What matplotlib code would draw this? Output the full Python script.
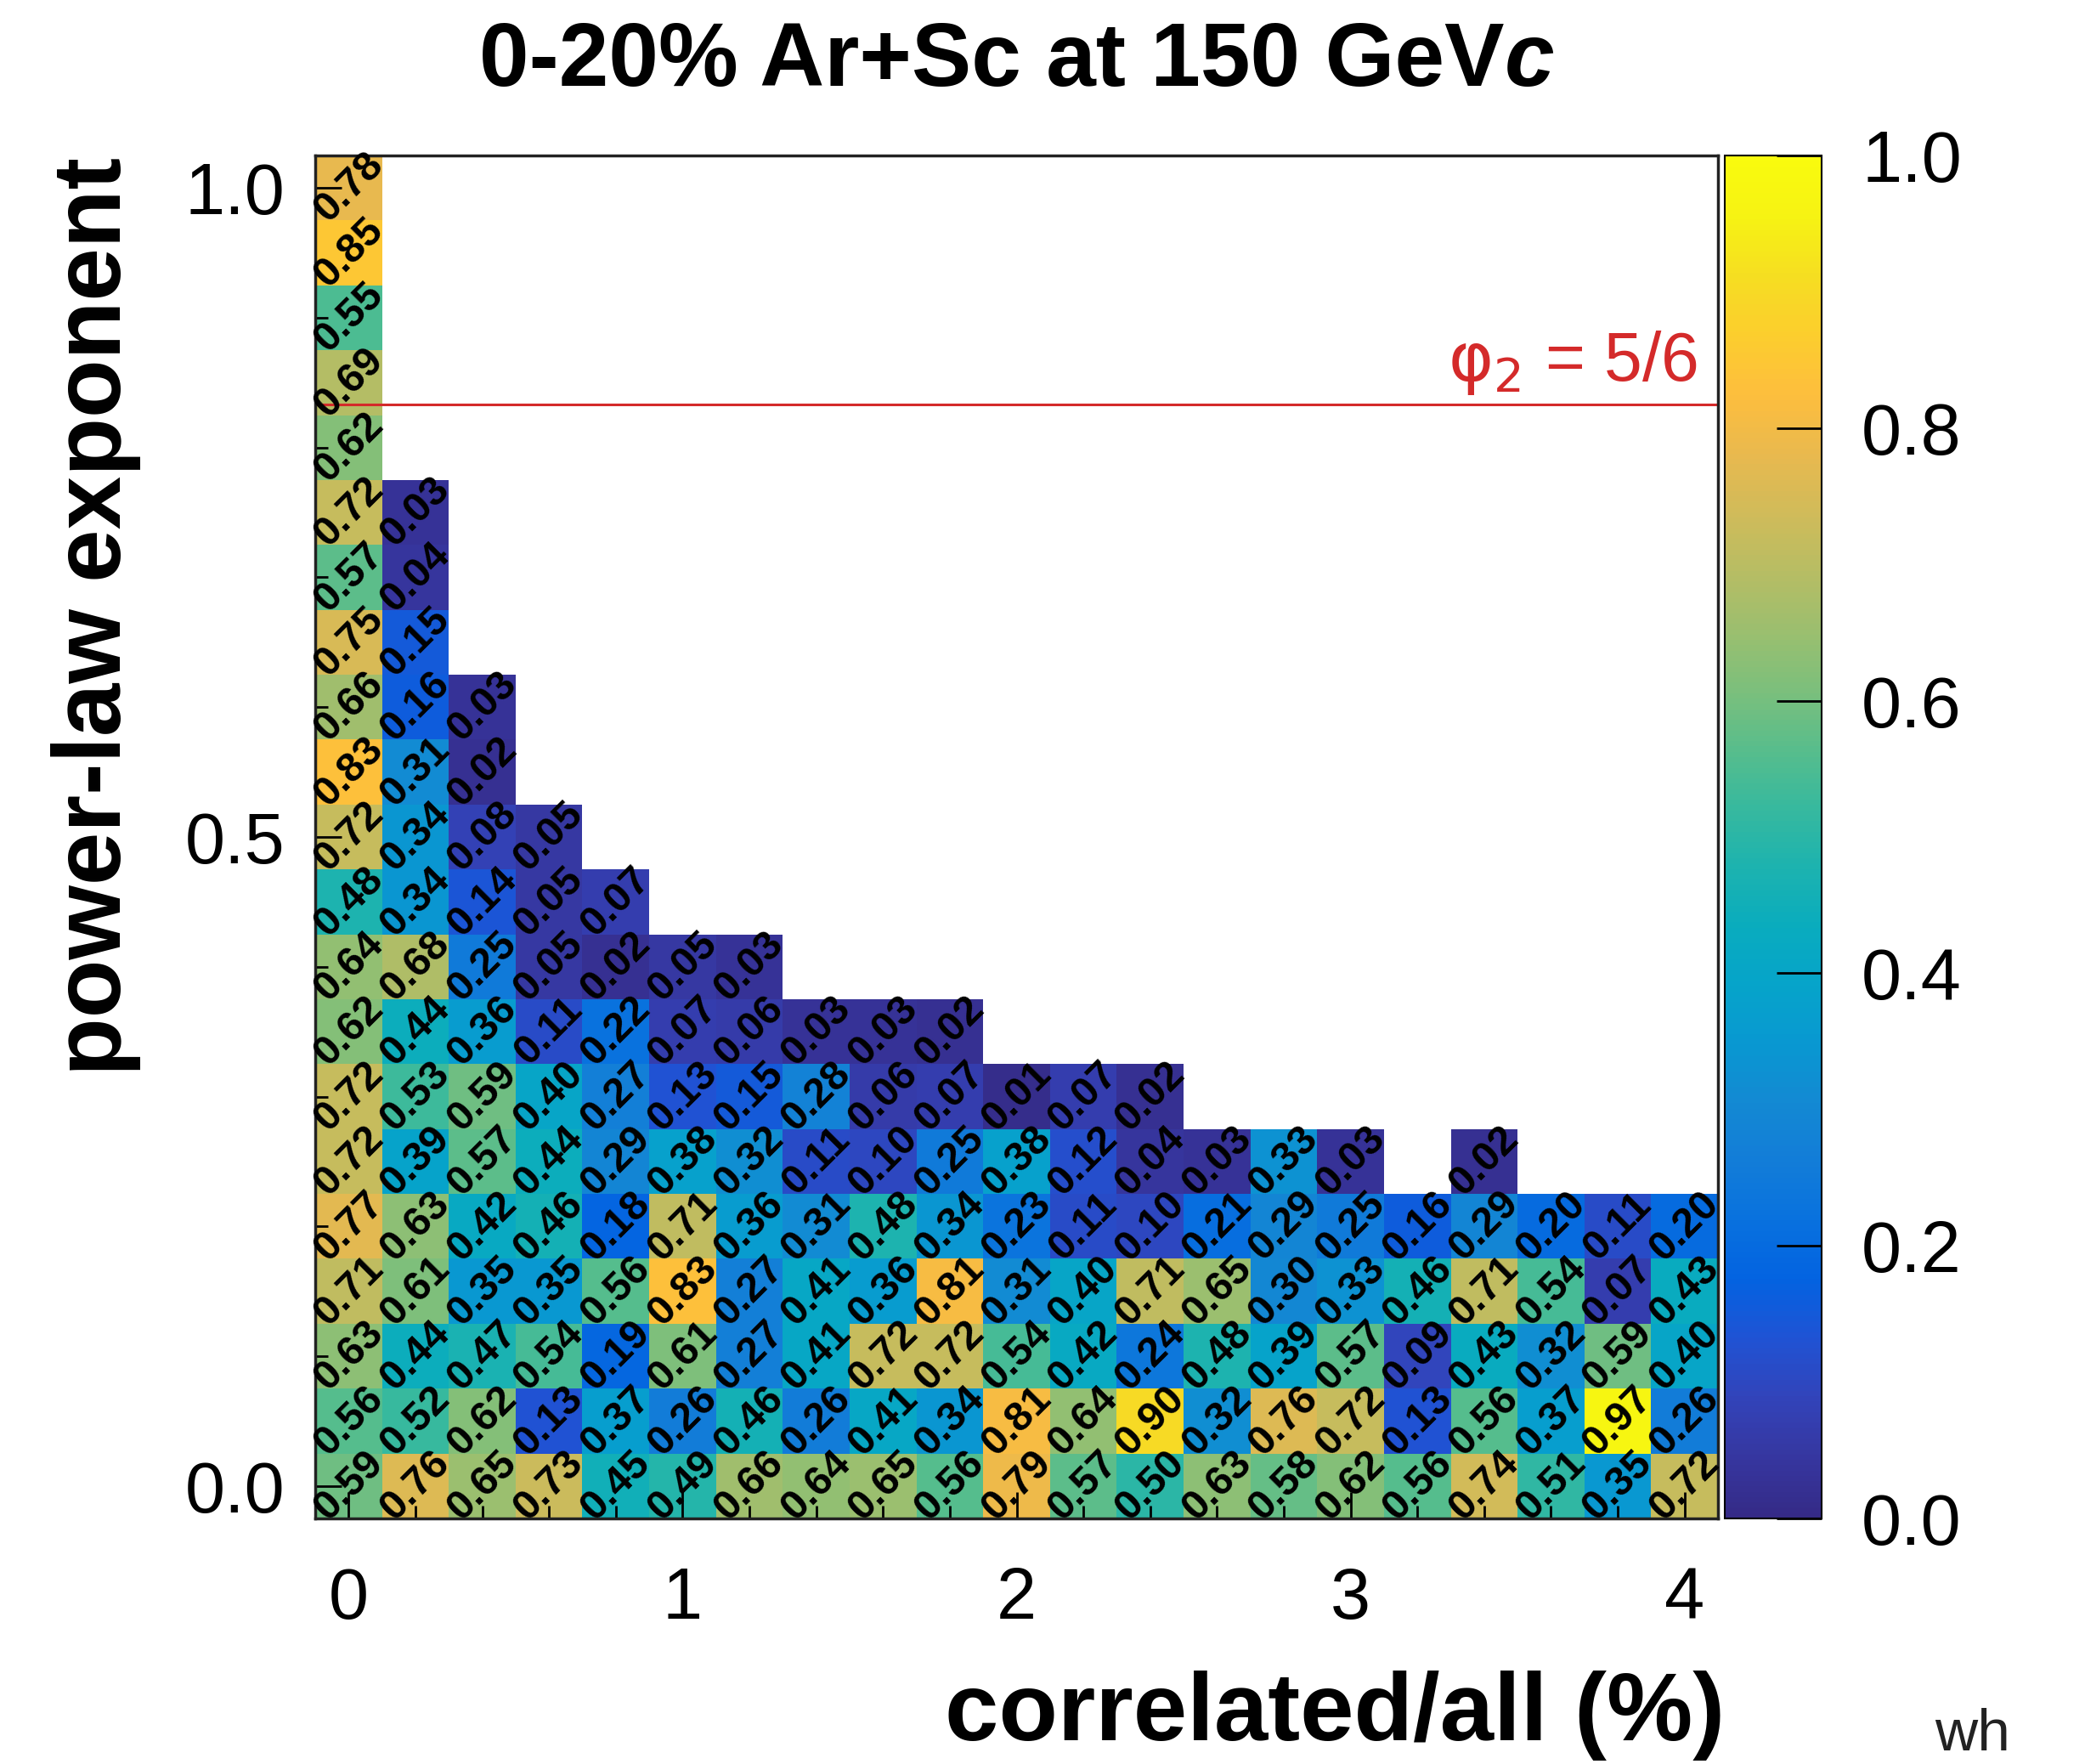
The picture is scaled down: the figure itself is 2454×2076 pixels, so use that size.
import numpy as np
import matplotlib
matplotlib.use("Agg")
import matplotlib.pyplot as plt
from matplotlib.colors import LinearSegmentedColormap
from matplotlib.ticker import MultipleLocator

plt.rcParams["font.family"] = ["Liberation Sans", "DejaVu Sans"]

# bin centres
x_centers = [0.0, 0.2, 0.4, 0.6, 0.8, 1.0, 1.2, 1.4, 1.6, 1.8, 2.0,
             2.2, 2.4, 2.6, 2.8, 3.0, 3.2, 3.4, 3.6, 3.8, 4.0]
y_step = 0.05
n_rows = 21

# fraction per cell, each column listed from y = 0 upwards
col_x00 = [0.59, 0.56, 0.63, 0.71, 0.77, 0.72, 0.72, 0.62, 0.64, 0.48, 0.72,
           0.83, 0.66, 0.75, 0.57, 0.72, 0.62, 0.69, 0.55, 0.85, 0.78]
col_x02 = [0.76, 0.52, 0.44, 0.61, 0.63, 0.39, 0.53, 0.44, 0.68, 0.34, 0.34,
           0.31, 0.16, 0.15, 0.04, 0.03]
col_x04 = [0.65, 0.62, 0.47, 0.35, 0.42, 0.57, 0.59, 0.36, 0.25, 0.14, 0.08,
           0.02, 0.03]
col_x06 = [0.73, 0.13, 0.54, 0.35, 0.46, 0.44, 0.40, 0.11, 0.05, 0.05, 0.05]
col_x08 = [0.45, 0.37, 0.19, 0.56, 0.18, 0.29, 0.27, 0.22, 0.02, 0.07]
col_x10 = [0.49, 0.26, 0.61, 0.83, 0.71, 0.38, 0.13, 0.07, 0.05]
col_x12 = [0.66, 0.46, 0.27, 0.27, 0.36, 0.32, 0.15, 0.06, 0.03]
col_x14 = [0.64, 0.26, 0.41, 0.41, 0.31, 0.11, 0.28, 0.03]
col_x16 = [0.65, 0.41, 0.72, 0.36, 0.48, 0.10, 0.06, 0.03]
col_x18 = [0.56, 0.34, 0.72, 0.81, 0.34, 0.25, 0.07, 0.02]
col_x20 = [0.79, 0.81, 0.54, 0.31, 0.23, 0.38, 0.01]
col_x22 = [0.57, 0.64, 0.42, 0.40, 0.11, 0.12, 0.07]
col_x24 = [0.50, 0.90, 0.24, 0.71, 0.10, 0.04, 0.02]
col_x26 = [0.63, 0.32, 0.48, 0.65, 0.21, 0.03]
col_x28 = [0.58, 0.76, 0.39, 0.30, 0.29, 0.33]
col_x30 = [0.62, 0.72, 0.57, 0.33, 0.25, 0.03]
col_x32 = [0.56, 0.13, 0.09, 0.46, 0.16]
col_x34 = [0.74, 0.56, 0.43, 0.71, 0.29, 0.02]
col_x36 = [0.51, 0.37, 0.32, 0.54, 0.20]
col_x38 = [0.35, 0.97, 0.59, 0.07, 0.11]
col_x40 = [0.72, 0.26, 0.40, 0.43, 0.20]

columns = [col_x00, col_x02, col_x04, col_x06, col_x08, col_x10, col_x12,
           col_x14, col_x16, col_x18, col_x20, col_x22, col_x24, col_x26,
           col_x28, col_x30, col_x32, col_x34, col_x36, col_x38, col_x40]

phi2 = 5.0 / 6.0

# parula-like colour scale
parula_pts = [
    (0.2081, 0.1663, 0.5292), (0.2123, 0.2138, 0.6270), (0.1959, 0.2645, 0.7279),
    (0.1253, 0.3242, 0.8303), (0.0117, 0.3875, 0.8820), (0.0329, 0.4430, 0.8720),
    (0.0723, 0.4887, 0.8467), (0.0749, 0.5375, 0.8263), (0.0343, 0.5966, 0.8199),
    (0.0231, 0.6418, 0.7913), (0.0384, 0.6743, 0.7436), (0.1133, 0.7015, 0.6859),
    (0.2178, 0.7250, 0.6193), (0.3482, 0.7424, 0.5473), (0.4871, 0.7491, 0.4840),
    (0.6099, 0.7473, 0.4337), (0.7184, 0.7411, 0.3905), (0.8185, 0.7327, 0.3498),
    (0.9139, 0.7258, 0.3063), (0.9938, 0.7455, 0.2403), (0.9880, 0.8066, 0.1794),
    (0.9626, 0.8705, 0.1309), (0.9661, 0.9514, 0.0755), (0.9763, 0.9831, 0.0538),
]
parula = LinearSegmentedColormap.from_list("parula", parula_pts, N=256)

# build the masked grid
grid = np.full((n_rows, len(x_centers)), np.nan)
for j, col in enumerate(columns):
    grid[:len(col), j] = col
masked = np.ma.masked_invalid(grid)

y_centers = np.arange(n_rows) * y_step
x_edges = np.concatenate([[x_centers[0] - 0.1], np.array(x_centers) + 0.1])
y_edges = np.concatenate([[y_centers[0] - y_step / 2], y_centers + y_step / 2])

W, H = 2454, 2076
fig = plt.figure(figsize=(W / 100, H / 100), dpi=100)
fig.patch.set_facecolor("white")

ax_l, ax_r, ax_t, ax_b = 371, 2022, 183, 1787
ax = fig.add_axes([ax_l / W, 1 - ax_b / H, (ax_r - ax_l) / W, (ax_b - ax_t) / H])
mesh = ax.pcolormesh(x_edges, y_edges, masked, cmap=parula, vmin=0, vmax=1,
                     shading="flat")

for j, col in enumerate(columns):
    for i, v in enumerate(col):
        ax.text(x_centers[j], y_centers[i], f"{v:.2f}", rotation=45,
                ha="center", va="center", rotation_mode="anchor",
                fontsize=35, fontweight="bold", color="black")

red = "#d42a2a"
ax.axhline(phi2, color=red, lw=2.2)
ax.text(4.04, phi2 + 0.006, r"$\mathrm{\varphi}_2$ = 5/6", color=red,
        fontsize=58, ha="right", va="bottom", math_fontfamily="dejavusans")

ax.set_xlim(x_edges[0], x_edges[-1])
ax.set_ylim(y_edges[0], y_edges[-1])
ax.xaxis.set_major_locator(MultipleLocator(1))
ax.xaxis.set_minor_locator(MultipleLocator(0.2))
ax.yaxis.set_major_locator(MultipleLocator(0.5))
ax.yaxis.set_minor_locator(MultipleLocator(0.1))
ax.xaxis.set_major_formatter(lambda v, p: f"{v:.0f}")
ax.yaxis.set_major_formatter(lambda v, p: f"{v:.1f}")
ax.tick_params(which="both", direction="in", top=False, right=False,
               width=2, color="black")
ax.tick_params(which="major", length=22)
ax.tick_params(which="minor", length=11)
ax.tick_params(axis="x", labelsize=61, pad=40)
ax.tick_params(axis="y", labelsize=61, pad=26)
for s in ax.spines.values():
    s.set_linewidth(2.5)
    s.set_color("#222222")

cax = fig.add_axes([2030 / W, 1 - ax_b / H, (2144 - 2030) / W, (ax_b - ax_t) / H])
cb = fig.colorbar(mesh, cax=cax)
cb.set_ticks([0.0, 0.2, 0.4, 0.6, 0.8, 1.0])
cb.ax.yaxis.set_major_formatter(lambda v, p: f"{v:.1f}")
cb.ax.tick_params(direction="in", length=38, width=2, labelsize=61, pad=34)
cb.outline.set_linewidth(1.5)

# title with italic c
title_main = "0-20% Ar+Sc at 150 GeV"
t1 = fig.text(0, 0, title_main, fontsize=76, fontweight="bold", va="center")
t2 = fig.text(0, 0, "c", fontsize=76, fontweight="bold", fontstyle="italic",
              va="center")
r = fig.canvas.get_renderer()
w1 = t1.get_window_extent(r).width
w2 = t2.get_window_extent(r).width
cx, cy = 1197, 74
x0 = cx - (w1 + w2) / 2
t1.set_position((x0 / W, 1 - cy / H))
t2.set_position(((x0 + w1) / W, 1 - cy / H))

fig.text(113 / W, 1 - 185 / H, "power-law exponent", rotation=90,
         fontsize=81, fontweight="bold", ha="center", va="top")
fig.text(2030 / W, 1 - 2019 / H, "correlated/all (%)", fontsize=82,
         fontweight="bold", ha="right", va="center")
fig.text(2277 / W, 1 - 2042 / H, "wh", fontsize=50, color="#222222",
         ha="left", va="center")

fig.savefig("out.png", dpi=100, facecolor="white")
